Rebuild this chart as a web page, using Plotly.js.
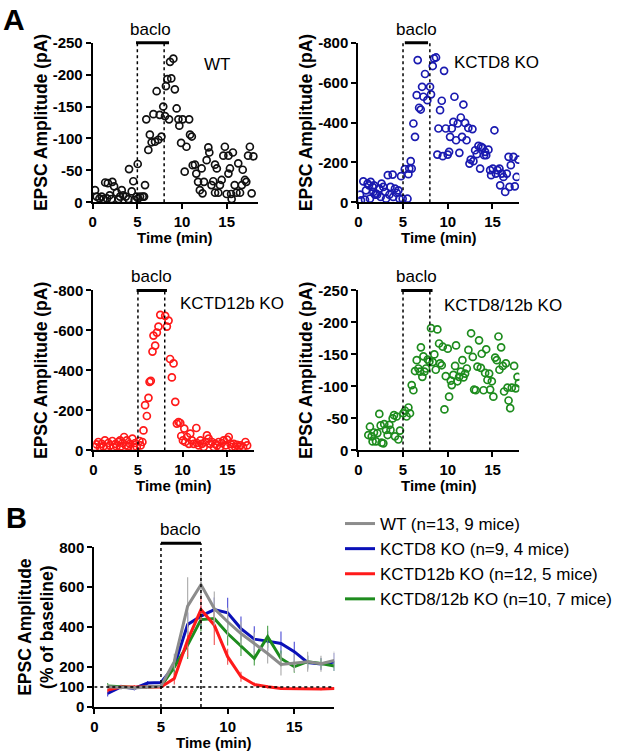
<!DOCTYPE html>
<html>
<head>
<meta charset="utf-8">
<script src="https://cdn.plot.ly/plotly-3.0.1.min.js"></script>
<style>html,body{margin:0;padding:0;background:#fff}#chart{width:617px;height:752px}</style>
</head>
<body>
<div id="chart"></div>
<script>
// ---------- Panel A data (EPSC amplitude, pA) ----------
const wtX = [0.26,0.45,0.75,1.0,1.2,1.4,1.7,1.6,1.9,2.2,2.4,2.1,2.7,2.9,3.06,3.25,3.4,3.7,4.0,4.07,4.37,4.55,4.7,4.9,5.04,5.1,5.3,5.6,5.75,5.86,
  6.0,6.23,6.4,6.6,6.8,6.98,7.16,7.35,7.5,7.7,7.9,8.1,8.2,8.36,8.55,8.66,9.03,8.8,9.2,9.4,9.6,9.7,9.9,10.07,10.5,10.8,11.1,10.9,10.3,11.2,
  11.45,11.6,11.8,12.0,12.2,12.3,12.46,12.76,12.95,13.06,13.3,13.5,13.7,13.7,13.9,14.07,14.25,14.44,14.63,14.8,15.0,15.2,15.37,15.2,15.56,15.5,15.7,15.9,16.1,16.3,
  16.5,16.7,16.8,17.05,17.2,17.4,17.6,17.8,18.0];
const wtY = [-19,-9,-6,-9,-5,-31,-30,-6,-11,-32,-25,-5,-15,-5,-9,-19,-11,-9,-5,-52,-17,-33,-4,-9,-60,-6,-9,-9,-9,-27,
  -130,-82,-106,-94,-138,-95,-174,-98,-137,-103,-150,-135,-182,-193,-130,-220,-225,-194,-177,-147,-130,-120,-93,-130,-87,-130,-103,-106,-48,-58,
  -59,-45,-32,-19,-53,-14,-32,-66,-86,-78,-27,-33,-15,-59,-53,-15,-27,-35,-73,-87,-13,-45,-53,-73,-5,-13,-78,-27,-15,-61,
  -15,-27,-51,-35,-32,-73,-87,-14,-72];

const k8X = [0.19,0.3,0.56,0.75,0.86,1.04,1.2,1.3,1.38,1.6,1.68,1.75,1.87,2.0,2.1,2.35,2.5,2.6,2.8,3.0,3.1,3.3,3.47,3.6,3.84,3.9,4.1,4.3,4.48,4.6,
  4.78,4.96,5.2,5.5,5.6,5.7,5.86,5.97,6.16,6.34,6.53,6.64,6.8,6.98,7.13,7.28,7.46,7.72,8.02,8.13,8.32,8.47,8.69,8.84,8.96,9.14,9.33,9.44,9.59,9.78,
  10.0,10.15,10.26,10.45,10.63,10.75,10.93,11.12,11.3,11.46,11.6,11.75,11.94,12.1,12.3,12.43,12.57,12.76,12.87,13.06,13.25,13.43,13.62,13.73,13.9,14.07,14.18,14.3,14.55,14.74,
  14.85,15.04,15.22,15.37,15.56,15.78,15.86,16.04,16.23,16.42,16.6,16.8,16.9,17.05,17.35,17.5,17.7,17.9];
const k8Y = [-38,-10,-105,-13,-60,-94,-85,-18,-102,-77,-52,-85,-38,-44,-38,-69,-27,-94,-77,-52,-18,-136,-38,-77,-139,-27,-69,-47,-60,-18,
  -131,-18,-166,-18,-141,-169,-206,-169,-395,-328,-537,-713,-474,-465,-579,-529,-643,-512,-579,-541,-683,-721,-726,-239,-370,-462,-509,-231,-659,-370,
  -239,-253,-328,-370,-403,-529,-311,-395,-248,-425,-328,-490,-398,-311,-373,-194,-214,-367,-206,-261,-241,-283,-169,-278,-273,-236,-253,-236,-264,-161,
  -136,-169,-361,-144,-161,-169,-85,-144,-127,-52,-144,-228,-77,-186,-228,-80,-127,-214];

const k12X = [0.19,0.37,0.56,0.75,0.94,1.12,1.3,1.5,1.69,1.87,2.13,2.25,2.5,2.6,2.8,3.0,3.07,3.3,3.45,3.63,3.75,3.93,4.1,4.38,4.5,4.7,4.87,5.17,5.3,5.5,
  5.62,5.8,6.0,6.18,6.3,6.44,6.63,6.74,6.93,7.12,7.3,7.5,8.05,8.24,8.43,8.6,8.8,8.99,9.18,9.36,9.55,9.74,9.85,10.04,10.19,10.3,10.5,10.7,10.86,11.05,
  11.24,11.54,11.6,11.8,12.0,12.17,12.36,12.55,12.73,12.92,13.1,13.3,13.5,13.67,13.86,14.04,14.23,14.4,14.6,14.8,14.98,15.17,15.36,15.54,15.73,15.9,16.1,16.3,16.5,16.78,
  17.04,17.23];
const k12Y = [-17,-30,-42,-17,-33,-20,-50,-17,-37,-25,-47,-17,-33,-20,-42,-50,-20,-37,-67,-25,-50,-20,-33,-59,-17,-37,-17,-47,-25,-42,
  -100,-226,-172,-263,-343,-348,-494,-574,-524,-589,-619,-678,-673,-619,-649,-457,-365,-435,-243,-134,-142,-137,-72,-50,-109,-42,-67,-33,-84,-50,
  -33,-112,-37,-25,-50,-33,-17,-42,-75,-59,-33,-42,-17,-33,-25,-42,-17,-37,-50,-25,-54,-67,-33,-17,-33,-17,-28,-17,-25,-17,
  -42,-25];

const k812X = [1.12,1.3,1.5,1.6,1.75,1.98,2.13,2.35,2.5,2.6,2.8,2.9,3.1,3.28,3.47,3.6,3.84,3.99,4.1,4.29,4.48,4.66,5.04,5.22,5.4,5.6,5.78,5.97,6.16,6.34,
  6.53,6.72,6.9,7.0,7.16,7.28,7.39,7.57,7.76,7.95,8.13,8.32,8.5,8.66,8.84,9.03,9.14,9.33,9.44,9.63,9.78,10.0,10.15,10.34,10.45,10.63,10.82,10.93,11.08,11.27,
  11.46,11.64,11.75,11.94,12.13,12.31,12.61,12.8,12.95,13.13,13.32,13.5,13.7,13.8,14.0,14.18,14.3,14.44,14.63,14.74,14.93,15.1,15.3,15.48,15.67,15.78,15.97,16.16,16.3,16.5,
  16.68,16.8,16.98,17.16,17.42,17.6,17.8,17.95];
const k812Y = [-24,-37,-22,-14,-28,-14,-27,-57,-39,-12,-11,-41,-32,-24,-40,-32,-50,-55,-22,-53,-17,-31,-58,-62,-53,-67,-58,-102,-94,-124,
  -141,-128,-123,-161,-115,-147,-123,-128,-142,-139,-191,-138,-150,-126,-189,-167,-136,-133,-162,-64,-116,-159,-84,-109,-102,-118,-132,-164,-108,-115,
  -123,-141,-114,-120,-128,-157,-183,-146,-95,-94,-131,-172,-129,-151,-94,-121,-158,-110,-120,-95,-108,-84,-145,-141,-178,-126,-161,-132,-92,-136,
  -98,-78,-66,-98,-132,-97,-115,-105];

// ---------- Panel B data (% of baseline) ----------
const bTime = [1,2,3,4,5,6,7,8,9,10,11,12,13,14,15,16,17,18];
const bWT   = [101,97,95,100,105,227,505,613,493,427,368,318,268,213,221,227,217,233];
const bWTerr= [12,10,10,10,10,40,145,60,85,70,60,55,50,55,45,50,40,45];
const bK8   = [68,101,93,120,123,205,413,455,488,472,393,340,330,318,277,223,215,225];
const bK8err= [15,10,10,10,10,30,60,50,60,75,60,65,50,60,50,35,30,45];
const bK12  = [85,100,100,100,100,143,335,488,410,252,152,113,101,93,92,92,90,93];
const bK12err=[12,10,10,10,10,30,85,70,100,40,25,10,8,6,6,6,6,6];
const bK812 = [105,100,98,100,103,200,310,438,443,368,305,243,352,243,202,227,218,205];
const bK812err=[15,10,10,10,10,40,70,60,50,60,50,35,55,40,30,30,25,25];

// ---------- Tick labels ----------
const xTickVals = [0,5,10,15];
const xTickText = ['0','5','10','15'];
const ySmallVals = [0,-50,-100,-150,-200,-250];
const ySmallText = ['0','-50','-100','-150','-200','-250'];
const yLargeVals = [0,-200,-400,-600,-800];
const yLargeText = ['0','-200','-400','-600','-800'];
const bYVals = [0,100,200,400,600,800];
const bYText = ['0','100','200','400','600','800'];

const seriesNames = ['WT (n=13, 9 mice)','KCTD8 KO (n=9, 4 mice)','KCTD12b KO (n=12, 5 mice)','KCTD8/12b KO (n=10, 7 mice)'];
const panelLabels = ['WT','KCTD8 KO','KCTD12b KO','KCTD8/12b KO'];
const xTitle = 'Time (min)';

// ---------- Styling ----------
const FONT = 'Liberation Sans, Arial, sans-serif';
const cBlack = '#111111', cBlue = '#1a1ab0', cRed = '#ff1a1a', cGreen = '#1e8c1e', cGray = '#8c8c8c';
const W = 617, H = 752;
const px2x = p => p / W;
const py2y = p => 1 - p / H;

const dom = {
  a1x: [px2x(92.7), px2x(257.9)], a1y: [py2y(202.3), py2y(42.7)],
  a2x: [px2x(358.3), px2x(519.3)], a2y: [py2y(202.3), py2y(42.7)],
  a3x: [px2x(93.3), px2x(254.0)],  a3y: [py2y(450.4), py2y(290.4)],
  a4x: [px2x(358.3), px2x(519.3)], a4y: [py2y(450.4), py2y(290.4)],
  bx:  [px2x(94.3), px2x(334.3)],  by:  [py2y(707), py2y(547.3)]
};

function scatter(x, y, color, xa, ya) {
  return {x: x, y: y, xaxis: xa, yaxis: ya, type: 'scatter', mode: 'markers', showlegend: false,
    marker: {symbol: 'circle-open', size: 7, color: color, line: {width: 1.7, color: color}},
    hoverinfo: 'skip'};
}
function line(y, err, color, errColor, name, rank) {
  return {x: bTime, y: y, xaxis: 'x5', yaxis: 'y5', type: 'scatter', mode: 'lines', name: name,
    legendrank: rank,
    line: {color: color, width: 3},
    error_y: {type: 'data', array: err, visible: true, color: errColor, thickness: 1.2, width: 0}};
}

const data = [
  scatter(wtX, wtY, cBlack, 'x', 'y'),
  scatter(k8X, k8Y, cBlue, 'x2', 'y2'),
  scatter(k12X, k12Y, cRed, 'x3', 'y3'),
  scatter(k812X, k812Y, cGreen, 'x4', 'y4'),
  line(bK8, bK8err, '#0a10b8', '#5a5ad8', seriesNames[1], 2),
  line(bK812, bK812err, cGreen, '#58a858', seriesNames[3], 4),
  line(bK12, bK12err, cRed, '#f06060', seriesNames[2], 3),
  line(bWT, bWTerr, cGray, '#b0b0b0', seriesNames[0], 1)
];

const tickFont = {family: FONT, size: 15, color: '#000', weight: 'bold'};
const titleFont = {family: FONT, size: 15, color: '#000', weight: 'bold'};
const yTitleFont = {family: FONT, size: 17.5, color: '#000', weight: 'bold'};

function xAxis(domain, range, anchor) {
  return {domain: domain, range: range, anchor: anchor, showgrid: false, zeroline: false,
    showline: true, linecolor: '#000', linewidth: 2, ticks: 'outside', ticklen: 5, tickwidth: 2, tickcolor: '#000',
    tickmode: 'array', tickvals: xTickVals, ticktext: xTickText, tickfont: tickFont, fixedrange: true};
}
function yAxis(domain, range, anchor, vals, text, title) {
  return {domain: domain, range: range, anchor: anchor, showgrid: false, zeroline: false,
    showline: true, linecolor: '#000', linewidth: 2, ticks: 'outside', ticklen: 5, tickwidth: 2, tickcolor: '#000',
    tickmode: 'array', tickvals: vals, ticktext: text, tickfont: tickFont,
    title: {text: title, font: yTitleFont}, fixedrange: true};
}

const yTitleA = 'EPSC Amplitude (pA)';
const layout = {
  width: W, height: H, margin: {l: 0, r: 0, t: 0, b: 0},
  paper_bgcolor: '#fff', plot_bgcolor: 'rgba(0,0,0,0)',
  font: {family: FONT, color: '#000'},
  xaxis:  xAxis(dom.a1x, [0, 18.5], 'y'),
  yaxis:  yAxis(dom.a1y, [0, -250], 'x', ySmallVals, ySmallText, yTitleA),
  xaxis2: xAxis(dom.a2x, [0, 18], 'y2'),
  yaxis2: yAxis(dom.a2y, [0, -800], 'x2', yLargeVals, yLargeText, yTitleA),
  xaxis3: xAxis(dom.a3x, [0, 18], 'y3'),
  yaxis3: yAxis(dom.a3y, [0, -800], 'x3', yLargeVals, yLargeText, yTitleA),
  xaxis4: xAxis(dom.a4x, [0, 18], 'y4'),
  yaxis4: yAxis(dom.a4y, [0, -250], 'x4', ySmallVals, ySmallText, yTitleA),
  xaxis5: xAxis(dom.bx, [0, 18], 'y5'),
  yaxis5: yAxis(dom.by, [0, 800], 'x5', bYVals, bYText, 'EPSC Amplitude<br>(% of baseline)'),
  showlegend: true,
  legend: {x: px2x(340), y: py2y(506), xanchor: 'left', yanchor: 'top', bgcolor: 'rgba(0,0,0,0)',
    font: {family: FONT, size: 17, color: '#000'}, traceorder: 'normal', itemwidth: 30, tracegroupgap: 0},
  shapes: [],
  annotations: []
};

// baclo bars, dotted lines, labels, x titles
const panels = [
  {xa: 'x', xd: dom.a1x, yd: dom.a1y, bar: [4.85, 8.55], top: 0, tOff: 35},
  {xa: 'x2', xd: dom.a2x, yd: dom.a2y, bar: [5.2, 7.8], top: 0, tOff: 35},
  {xa: 'x3', xd: dom.a3x, yd: dom.a3y, bar: [4.85, 8.25], top: 0, tOff: 35},
  {xa: 'x4', xd: dom.a4x, yd: dom.a4y, bar: [4.8, 8.3], top: 0, tOff: 35},
  {xa: 'x5', xd: dom.bx, yd: dom.by, bar: [5, 8], top: 4, tOff: 35}
];
panels.forEach(p => {
  const yBar = p.yd[1] + p.top / H;
  layout.shapes.push({type: 'line', xref: p.xa, yref: 'paper', x0: p.bar[0], x1: p.bar[1], y0: yBar, y1: yBar,
    line: {color: '#000', width: 3}});
  [5, 8].forEach(v => layout.shapes.push({type: 'line', xref: p.xa, yref: 'paper', x0: v, x1: v, y0: p.yd[0], y1: yBar,
    line: {color: '#000', width: 1.5, dash: 'dot'}}));
  layout.annotations.push({xref: p.xa, yref: 'paper', x: 6.5, y: yBar + 2 / H, text: 'baclo', showarrow: false,
    xanchor: 'center', yanchor: 'bottom', font: {family: FONT, size: 17, color: '#000'}});
  layout.annotations.push({xref: 'paper', yref: 'paper', x: (p.xd[0] + p.xd[1]) / 2, y: p.yd[0] - p.tOff / H,
    text: xTitle, showarrow: false, xanchor: 'center', yanchor: 'middle', font: titleFont});
});
// baseline dotted line in B
layout.shapes.push({type: 'line', xref: 'x5', yref: 'y5', x0: 0, x1: 18, y0: 100, y1: 100,
  line: {color: '#000', width: 1.5, dash: 'dot'}});

// genotype labels
layout.annotations.push(
  {xref: 'x', yref: 'y', x: 13.9, y: -216, text: panelLabels[0], showarrow: false, font: {family: FONT, size: 17, color: '#000'}},
  {xref: 'x2', yref: 'y2', x: 15.5, y: -702, text: panelLabels[1], showarrow: false, font: {family: FONT, size: 17, color: '#000'}},
  {xref: 'x3', yref: 'y3', x: 15.5, y: -733, text: panelLabels[2], showarrow: false, font: {family: FONT, size: 17, color: '#000'}},
  {xref: 'x4', yref: 'y4', x: 16.2, y: -227, text: panelLabels[3], showarrow: false, font: {family: FONT, size: 17, color: '#000'}},
  {xref: 'paper', yref: 'paper', x: 0.002, y: py2y(1), xanchor: 'left', yanchor: 'top', text: 'A', showarrow: false,
    font: {family: FONT, size: 30, color: '#000', weight: 'bold'}},
  {xref: 'paper', yref: 'paper', x: px2x(4), y: py2y(500), xanchor: 'left', yanchor: 'top', text: 'B', showarrow: false,
    font: {family: FONT, size: 29, color: '#000', weight: 'bold'}}
);

Plotly.newPlot('chart', data, layout, {displayModeBar: false, staticPlot: true});
</script>
</body>
</html>
